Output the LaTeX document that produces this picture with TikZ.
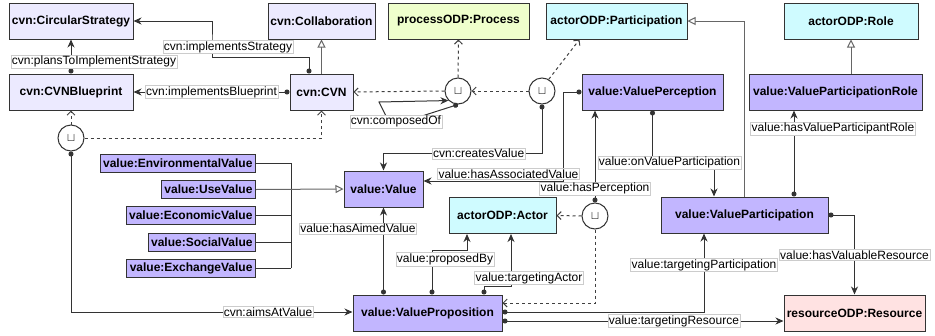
\documentclass[tikz,border=0pt]{standalone}
\usepackage{fontspec}
\setmainfont{Liberation Sans}
\usetikzlibrary{arrows.meta}
\definecolor{cvnfill}{HTML}{ECEAFF}
\definecolor{valfill}{HTML}{C2B6FF}
\definecolor{procfill}{HTML}{EFFFCC}
\definecolor{actfill}{HTML}{CFFBFF}
\definecolor{resfill}{HTML}{FFE2E2}
\definecolor{edge}{HTML}{333333}

\begin{document}
\begin{tikzpicture}[x=1pt, y=-1pt, line width=1pt, font=\fontsize{12}{14}\selectfont]
	\tikzstyle{box}=[draw=edge, minimum height=36pt, inner sep=2pt, font=\fontsize{12}{14}\selectfont\bfseries]
	\tikzstyle{small}=[box, fill=valfill, minimum height=18pt, inner xsep=3pt, inner ysep=0pt, anchor=east]
	\tikzstyle{union}=[circle, draw=edge, fill=white, minimum size=26pt, inner sep=0pt]
	\tikzstyle{lbl}=[fill=white, draw=black!20, line width=0.5pt, inner sep=1pt, font=\fontsize{12}{13}\selectfont]
	\tikzstyle{rel}=[draw=edge, {Circle[length=5pt]}-{Stealth[length=8pt,width=7pt,inset=2.5pt]}]
	\tikzstyle{isa}=[draw=black!60, -{Triangle[open,length=8pt,width=8pt,fill=white]}]
	\tikzstyle{dsh}=[draw=black!75, dash pattern=on 3pt off 3pt, -{Straight Barb[length=4pt,width=8pt]}]
	
	\useasboundingbox (0,0) rectangle (935,335);
	
	\node[box, fill=cvnfill, minimum width=124pt] (cs) at (71,21) {cvn:CircularStrategy};
	\node[box, fill=cvnfill, minimum width=107pt] (collab) at (321.5,21) {cvn:Collaboration};
	\node[box, fill=procfill, minimum width=141pt] (proc) at (458.5,21) {processODP:Process};
	\node[box, fill=actfill, minimum width=141pt] (part) at (616.5,21) {actorODP:Participation};
	\node[box, fill=actfill, minimum width=134pt] (role) at (851,21) {actorODP:Role};
	\node[box, fill=cvnfill, minimum width=124pt] (bp) at (71,92) {cvn:CVNBlueprint};
	\node[box, fill=cvnfill, minimum width=63pt] (cvn) at (321.5,92) {cvn:CVN};
	\node[box, fill=valfill, minimum width=141pt] (perc) at (652.5,92) {value:ValuePerception};
	\node[box, fill=valfill, minimum width=173pt] (prole) at (835.5,92) {value:ValueParticipationRole};
	\node[box, fill=valfill, minimum width=79pt] (val) at (383.5,189) {value:Value};
	\node[box, fill=actfill, minimum width=107pt] (actor) at (502.5,215.5) {actorODP:Actor};
	\node[box, fill=valfill, minimum width=167pt] (vpart) at (744.5,215) {value:ValueParticipation};
	\node[box, fill=valfill, minimum width=149pt] (prop) at (427.5,313) {value:ValueProposition};
	\node[box, fill=resfill, minimum width=141pt] (res) at (854.5,313) {resourceODP:Resource};
	
	\node[small] (env) at (256,163) {value:EnvironmentalValue};
	\node[small] (use) at (256,189.5) {value:UseValue};
	\node[small] (econ) at (256,215.5) {value:EconomicValue};
	\node[small] (soc) at (256,242) {value:SocialValue};
	\node[small] (exch) at (256,268) {value:ExchangeValue};
	
	\node[union] (u1) at (71,138) {$\sqcup$};
	\node[union] (u2) at (458,91) {$\sqcup$};
	\node[union] (u3) at (542,91) {$\sqcup$};
	\node[union] (u4) at (595,216) {$\sqcup$};
	
	\draw[rel] ([xshift=-12.5pt]cvn.north) |- (212,57) -- (212,47) node[lbl, xshift=16pt]{cvn:implementsStrategy} |- (cs.east);
	\draw[rel] (bp.north) -- (cs.south) node[lbl, pos=0.35, xshift=23pt]{cvn:plansToImplementStrategy};
	\draw[rel] (cvn.west) -- (bp.east) node[lbl, midway]{cvn:implementsBlueprint};
	\draw[isa] (cvn.north) -- (collab.south);
	
	\draw[dsh] (u2.north) -- (proc.south);
	\draw[dsh] (u2.west) -- (cvn.east);
	\draw[dsh] (u3.west) -- (u2.east);
	\draw[dsh] (u3.60) -- ([xshift=34pt]part.south west);
	\draw[rel] (u2.south) -- (422,116) -- (386,116) node[lbl, midway, xshift=-8pt, yshift=-5.5pt]{cvn:composedOf} -- (379,102) -- (u2.225);
	\draw[rel] (u3.south) |- ([yshift=17pt]val.north) node[lbl, pos=0.7]{cvn:createsValue} -- (val.north);
	
	\draw[dsh] (u1.north) -- (bp.south);
	\draw[dsh] (u1.east) -| (cvn.south);
	\draw[rel] (u1.south) |- ([yshift=1pt]prop.west) node[lbl, pos=0.85]{cvn:aimsAtValue};
	
	\foreach \n in {env,econ,soc,exch}
		\draw[edge] (\n.east) -- (\n.east -| 291,0);
	\draw[edge] (env.east -| 291,0) -- (exch.east -| 291,0);
	\draw[isa] (use.east) -- (val.west);
	
	\draw[rel] (perc.west) -- ++(-18,0) |- ([yshift=8pt]val.east) node[lbl, pos=0.5, xshift=-55pt, yshift=7pt]{value:hasAssociatedValue};
	\draw[rel] (u4.north) -- (u4.north |- perc.south) node[lbl, pos=0.15]{value:hasPerception};
	\draw[rel] (perc.south) -- ++(0,52) node[lbl, xshift=17pt]{value:onValueParticipation} -| ([xshift=-30.5pt]vpart.north);
	\draw[isa] (vpart.north) |- (part.east);
	\draw[isa] (role.south |- prole.north) -- (role.south);
	\draw[rel] ([xshift=49.5pt]vpart.north) -- ([xshift=49.5pt]vpart.north |- prole.south) node[lbl, pos=0.79, xshift=39pt]{value:hasValueParticipantRole};
	\draw[rel] (vpart.east) -| (res.north) node[lbl, pos=0.75]{value:hasValuableResource};
	
	\draw[rel] (val.south |- prop.north) -- (val.south) node[lbl, pos=0.76, xshift=-25.5pt]{value:hasAimedValue};
	\draw[rel] ([xshift=4.5pt]prop.north) -- ++(0,-44) node[lbl, pos=0.8, xshift=13pt]{value:proposedBy} -| ([xshift=-35.5pt]actor.south);
	\draw[rel] ([xshift=56.5pt]prop.north) -- ++(0,-8) -| ([xshift=8.5pt]actor.south) node[lbl, pos=0.58, xshift=18pt]{value:targetingActor};
	\draw[dsh] (u4.west) -- (actor.east);
	\draw[dsh] (u4.south) |- ([yshift=10pt]prop.east);
	\draw[rel] ([yshift=1pt]prop.east) -| ([xshift=-40.5pt]vpart.south) node[lbl, pos=0.8]{value:targetingParticipation};
	\draw[rel] ([yshift=-8pt]prop.east) -- ([yshift=-8pt]res.west) node[lbl, pos=0.61]{value:targetingResource};
\end{tikzpicture}
\end{document}
